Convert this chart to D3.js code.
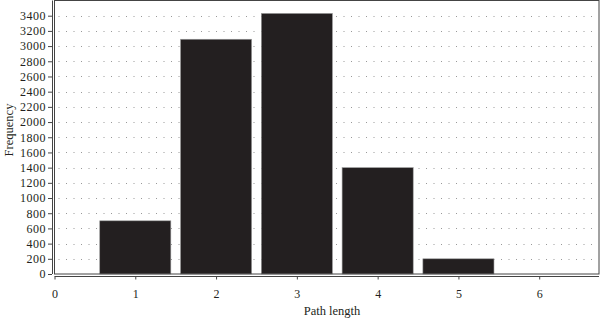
<!DOCTYPE html>
<html><head><meta charset="utf-8">
<script src="https://cdn.jsdelivr.net/npm/d3@7"></script>
<style>body{margin:0;background:#fff}svg{display:block}</style>
</head><body>
<svg id="c" width="600" height="320"></svg>
<script>
const pathLengths = [1, 2, 3, 4, 5, 6];
const frequencies = [700, 3090, 3430, 1400, 200, 0];
const yTicks = d3.range(0, 3401, 200);
const xTicks = [0, 1, 2, 3, 4, 5, 6];

(function () {
const svg = d3.select("#c");
const pL = 54.5, pR = 599, pT = 0.5, pB = 274;
const x = d3.scaleLinear().domain([0, 6.74]).range([pL, pR]);
const y = d3.scaleLinear().domain([0, 3400]).range([pB, 15.7]);
const font = "'Liberation Serif', 'DejaVu Serif', serif";

// dotted grid
const g = svg.append("g");
yTicks.filter(d => d > 0).forEach(t => {
  g.append("line").attr("x1", pL + 4).attr("x2", pR - 2)
    .attr("y1", Math.round(y(t)) + 0.5).attr("y2", Math.round(y(t)) + 0.5)
    .attr("stroke", "#999").attr("stroke-width", 1)
    .attr("stroke-dasharray", "1,6.5");
});

// bars
const bw = 0.88;
svg.append("g").selectAll("rect").data(pathLengths.map((p, i) => ({p, v: frequencies[i]})).filter(d => d.v > 0))
  .join("rect")
  .attr("x", d => x(d.p - bw / 2))
  .attr("width", d => x(bw) - x(0))
  .attr("y", d => y(d.v))
  .attr("height", d => y(0) - y(d.v))
  .attr("fill", "#231f20")
  .attr("stroke", "#9a9a9a").attr("stroke-width", 0.6);

// frame
svg.append("rect").attr("x", pL).attr("y", pT).attr("width", pR - pL).attr("height", pB - pT)
  .attr("fill", "none").attr("stroke", "#444").attr("stroke-width", 1);

// y axis (offset)
const yAxis = d3.axisLeft(y).tickValues(yTicks).tickFormat(d3.format("d")).tickSize(4).tickSizeOuter(0).tickPadding(2);
const ya = svg.append("g").attr("transform", "translate(52,0)").call(yAxis);
ya.select(".domain").attr("stroke", "#444").attr("d", `M0.5,${pB}V${pT}`);
ya.selectAll(".tick line").attr("stroke", "#444");
ya.selectAll(".tick text").attr("font-family", font).attr("font-size", 12).attr("fill", "#231f20")
  .attr("letter-spacing", "0.5px");

// x axis (offset)
const xAxis = d3.axisBottom(x).tickValues(xTicks).tickFormat(d3.format("d")).tickSize(3).tickSizeOuter(0).tickPadding(10);
const xa = svg.append("g").attr("transform", "translate(0,276.5)").call(xAxis);
xa.select(".domain").attr("stroke", "#444").attr("d", `M${pL},0H${pR}`);
xa.selectAll(".tick line").attr("stroke", "#444");
xa.selectAll(".tick text").attr("font-family", font).attr("font-size", 12).attr("fill", "#231f20");

// axis titles
svg.append("text").attr("x", 332).attr("y", 315).attr("text-anchor", "middle")
  .attr("font-family", font).attr("font-size", 12.5).attr("fill", "#231f20").text("Path length");
svg.append("text").attr("transform", "translate(13,130) rotate(-90)").attr("text-anchor", "middle")
  .attr("font-family", font).attr("font-size", 12.5).attr("fill", "#231f20").text("Frequency");
})();
</script>
</body></html>
